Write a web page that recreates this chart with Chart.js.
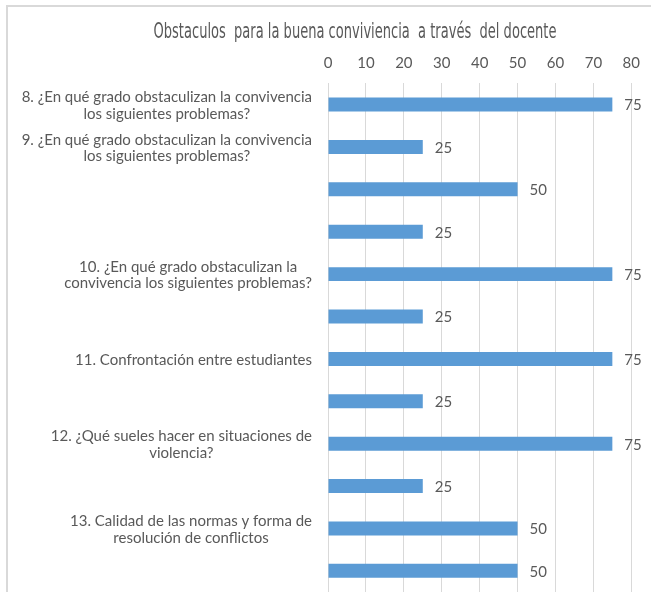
<!DOCTYPE html>
<html>
<head>
<meta charset="utf-8">
<script src="https://cdn.jsdelivr.net/npm/chart.js@4.4.1/dist/chart.umd.min.js"></script>
<style>
  html, body { margin: 0; padding: 0; background: #fff; overflow: hidden; }
  #wrap { position: relative; width: 651px; height: 592px; }
  #frame { position: absolute; left: 6px; top: 5px; right: -10px; bottom: -10px;
           border-left: 2px solid #d9d9d9; border-top: 2px solid #d9d9d9; pointer-events: none; }
  canvas { position: absolute; left: 0; top: 0; }
</style>
</head>
<body>
<div id="wrap">
  <canvas id="c" width="651" height="592"></canvas>
  <div id="frame"></div>
</div>
<script>
const chartTitle = "Obstaculos  para la buena conviviencia  a través  del docente";
const categories = [
  ["8. ¿En qué grado obstaculizan la convivencia", "los siguientes problemas?"],
  ["9. ¿En qué grado obstaculizan la convivencia", "los siguientes problemas?"],
  [""],
  [""],
  ["10. ¿En qué grado obstaculizan la", "convivencia los siguientes problemas?"],
  [""],
  ["11. Confrontación entre estudiantes"],
  [""],
  ["12. ¿Qué sueles hacer en situaciones de", "violencia?"],
  [""],
  ["13. Calidad de las normas y forma de", "resolución de conflictos"],
  [""]
];
const values = [75, 25, 50, 25, 75, 25, 75, 25, 75, 25, 50, 50];
const xTicksMin = 0, xTicksMax = 80, xTickStep = 10;

const TEXT = '#595959';
const LABEL_FONT = '15px Lato, "Liberation Sans", sans-serif';

const labelPlugin = {
  id: 'customLabels',
  afterDatasetsDraw(chart) {
    const ctx = chart.ctx;
    const yScale = chart.scales.y;
    const right = chart.chartArea.left - 16;
    ctx.save();
    // title (condensed)
    ctx.font = '17px "DejaVu Sans Condensed", "Liberation Sans", sans-serif';
    ctx.fillStyle = TEXT;
    ctx.textBaseline = 'middle';
    ctx.textAlign = 'center';
    const tw = ctx.measureText(chartTitle).width;
    const sx = 403 / tw;
    ctx.save();
    ctx.translate(355, 33);
    ctx.scale(sx, 1.2);
    ctx.fillText(chartTitle, 0, 0);
    ctx.restore();

    ctx.font = LABEL_FONT;
    const lh = 16.5;
    categories.forEach((lines, i) => {
      const yc = yScale.getPixelForValue(i);
      let maxW = 0;
      lines.forEach(l => { maxW = Math.max(maxW, ctx.measureText(l).width); });
      const cx = right - maxW / 2;
      const y0 = yc - (lines.length - 1) * lh / 2 + 1;
      lines.forEach((l, k) => ctx.fillText(l, cx, y0 + k * lh));
    });
    // data labels
    const meta = chart.getDatasetMeta(0);
    ctx.textAlign = 'left';
    meta.data.forEach((bar, i) => {
      ctx.fillText(String(values[i]), bar.x + 12, bar.y + 1);
    });
    ctx.restore();
  }
};

new Chart(document.getElementById('c'), {
  type: 'bar',
  data: {
    labels: categories.map(c => c.join(' ')),
    datasets: [{
      data: values,
      backgroundColor: '#5b9bd5',
      borderWidth: 0,
      categoryPercentage: 0.66,
      barPercentage: 0.5
    }]
  },
  plugins: [labelPlugin],
  options: {
    indexAxis: 'y',
    responsive: false,
    animation: false,
    layout: { padding: { left: 78, right: 19, top: 0, bottom: 0 } },
    plugins: {
      legend: { display: false },
      tooltip: { enabled: false },
      title: {
        display: true,
        text: ' ',
        color: 'rgba(0,0,0,0)',
        font: { size: 17 },
        padding: { top: 11, bottom: 12 }
      }
    },
    scales: {
      x: {
        position: 'top',
        min: xTicksMin,
        max: xTicksMax,
        ticks: { stepSize: xTickStep, color: TEXT, font: { family: 'Lato, "Liberation Sans", sans-serif', size: 15 }, padding: 11 },
        grid: { color: '#d9d9d9', drawTicks: false, lineWidth: 1 },
        border: { display: false }
      },
      y: {
        ticks: { display: false },
        grid: { display: false },
        border: { display: false },
        afterFit(scale) { scale.width = 250; }
      }
    }
  }
});
</script>
</body>
</html>
